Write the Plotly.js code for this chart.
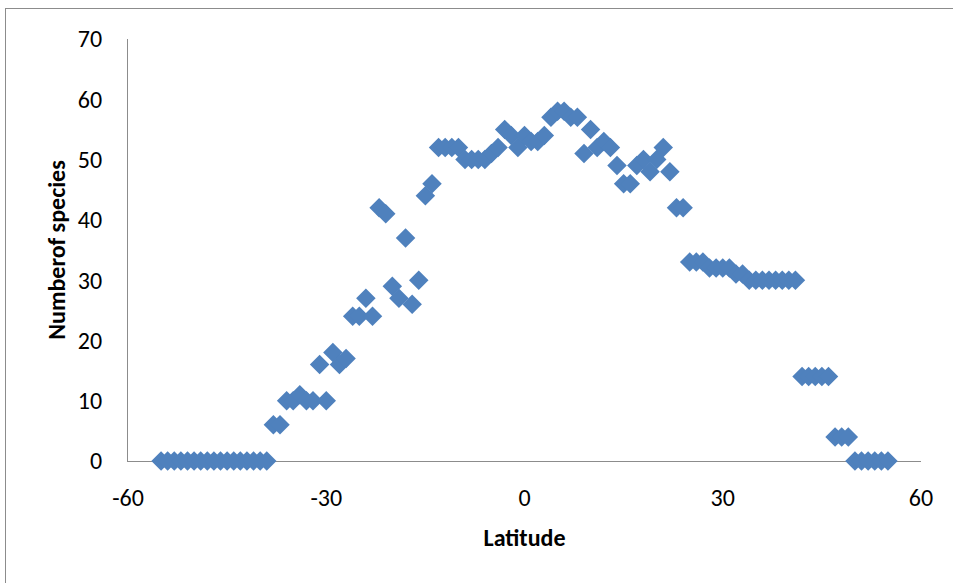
<!DOCTYPE html>
<html>
<head>
<meta charset="utf-8">
<script src="https://cdn.plot.ly/plotly-3.0.1.min.js"></script>
<style>
  html, body { margin: 0; padding: 0; background: #fff; overflow: hidden; }
  #frame { position: absolute; left: 5px; top: 8px; width: 960px; height: 600px;
           border-left: 1px solid #8c8c8c; border-top: 1px solid #8c8c8c; }
  #chart { position: absolute; left: 0; top: 0; width: 953px; height: 583px; }
</style>
</head>
<body>
<div id="frame"></div>
<div id="chart"></div>
<script>
const latitude = [
  -55,-54,-53,-52,-51,-50,-49,-48,-47,-46,-45,-44,-43,-42,-41,-40,-39,
  -38,-37,-36,-35,-34,-33,-32,-31,-30,-29,-28,-27,-26,-25,-24,-23,-22,-21,
  -20,-19,-18,-17,-16,-15,-14,-13,-12,-11,-10,-9,-8,-7,-6,-5,-4,-3,-2,-1,
  0,1,2,3,4,5,6,7,8,9,10,11,12,13,14,15,16,17,18,19,20,21,22,23,24,
  25,26,27,28,29,30,31,32,33,34,35,36,37,38,39,40,41,
  42,43,44,45,46,47,48,49,50,51,52,53,54,55
];
const species = [
  0,0,0,0,0,0,0,0,0,0,0,0,0,0,0,0,0,
  6,6,10,10,11,10,10,16,10,18,16,17,24,24,27,24,42,41,
  29,27,37,26,30,44,46,52,52,52,52,50,50,50,50,51,52,55,54,52,
  54,53,53,54,57,58,58,57,57,51,55,52,53,52,49,46,46,49,50,48,50,52,48,42,42,
  33,33,33,32,32,32,32,31,31,30,30,30,30,30,30,30,30,
  14,14,14,14,14,4,4,4,0,0,0,0,0,0
];
const xTicks = [-60, -30, 0, 30, 60];
const yTicks = [0, 10, 20, 30, 40, 50, 60, 70];

const tickFont = { family: 'Carlito, "Liberation Sans Narrow", "Liberation Sans", sans-serif', size: 24, color: '#000' };
const titleFont = { family: 'Carlito, "Liberation Sans", sans-serif', size: 24, color: '#000', weight: 'bold' };

const trace = {
  x: latitude, y: species, type: 'scatter', mode: 'markers',
  marker: { symbol: 'diamond', size: 15, color: '#4F81BD', line: { width: 0 } },
  cliponaxis: false, hoverinfo: 'x+y'
};

const layout = {
  width: 953, height: 583,
  margin: { l: 128, r: 32, t: 39, b: 122 },
  paper_bgcolor: 'rgba(0,0,0,0)', plot_bgcolor: 'rgba(0,0,0,0)',
  showlegend: false,
  xaxis: {
    range: [-60, 60], tickvals: xTicks, ticktext: xTicks.map(String),
    showgrid: false, zeroline: false, showline: true, linecolor: '#8c8c8c', linewidth: 1,
    ticks: '', tickfont: tickFont, ticklabelstandoff: 15, layer: 'below traces',
    title: { text: 'Latitude', font: titleFont, standoff: 18 }
  },
  yaxis: {
    range: [0, 70], tickvals: yTicks, ticktext: yTicks.map(String),
    showgrid: false, zeroline: false, showline: true, linecolor: '#8c8c8c', linewidth: 1,
    ticks: '', tickfont: tickFont, ticklabelstandoff: 20, layer: 'below traces',
    title: { text: 'Numberof species', font: titleFont, standoff: 5 }
  }
};

Plotly.newPlot('chart', [trace], layout, { displayModeBar: false, staticPlot: true });
</script>
</body>
</html>
